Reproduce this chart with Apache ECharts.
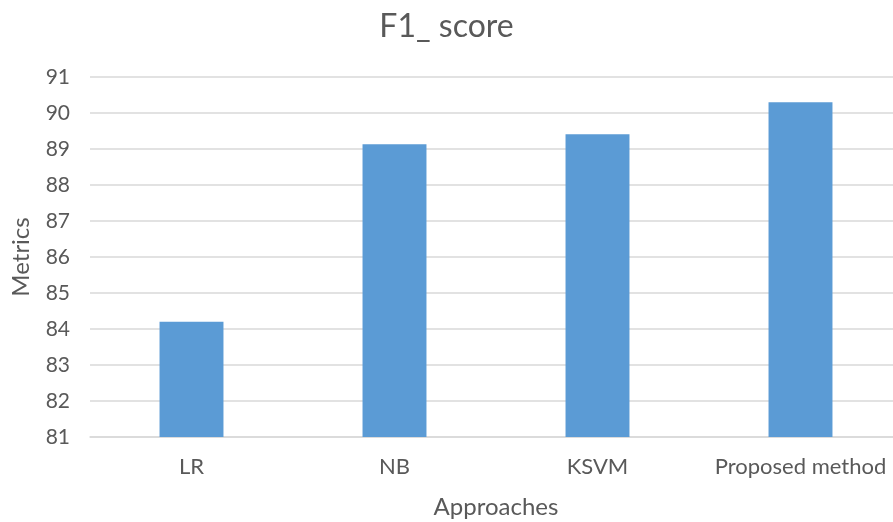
<!DOCTYPE html>
<html>
<head>
<meta charset="utf-8">
<script src="https://cdn.jsdelivr.net/npm/echarts@6/dist/echarts.min.js"></script>
<style>
  html, body { margin: 0; padding: 0; background: #fff; }
  #chart { width: 893px; height: 522px; }
</style>
</head>
<body>
<div id="chart"></div>
<script>
// F1 score per approach
const approaches = ['LR', 'NB', 'KSVM', 'Proposed method'];
const f1Scores = [84.2, 89.13, 89.41, 90.3];
const yMin = 81;
const yMax = 91;

const font = 'Lato, "Open Sans", sans-serif';
const textColor = '#595959';

const chart = echarts.init(document.getElementById('chart'), null, { renderer: 'canvas' });
chart.setOption({
  animation: false,
  backgroundColor: '#ffffff',
  title: {
    text: 'F1_ score',
    left: 'center',
    top: 6,
    textStyle: { fontFamily: font, fontSize: 32, fontWeight: 'normal', color: textColor }
  },
  // plot area runs a little past the right edge of the canvas
  grid: { left: 90, top: 77, width: 812, height: 360, containLabel: false, outerBoundsMode: 'none' },
  xAxis: {
    type: 'category',
    data: approaches,
    name: 'Approaches',
    nameLocation: 'middle',
    nameGap: 58,
    nameTextStyle: { fontFamily: font, fontSize: 24, color: textColor },
    axisLine: { lineStyle: { color: '#d9d9d9', width: 1.5 } },
    axisTick: { show: false },
    axisLabel: { interval: 0, hideOverlap: false, fontFamily: font, fontSize: 22, color: textColor, margin: 19 }
  },
  yAxis: {
    type: 'value',
    min: yMin,
    max: yMax,
    interval: 1,
    name: 'Metrics',
    nameLocation: 'middle',
    nameGap: 57,
    nameTextStyle: { fontFamily: font, fontSize: 24, color: textColor },
    axisLine: { show: false },
    axisTick: { show: false },
    axisLabel: { fontFamily: font, fontSize: 21, color: textColor, margin: 20 },
    splitLine: { lineStyle: { color: '#d9d9d9', width: 1.5 } }
  },
  series: [{
    type: 'bar',
    data: f1Scores,
    barWidth: '31.5%',
    itemStyle: { color: '#5b9bd5' }
  }]
});
</script>
</body>
</html>
